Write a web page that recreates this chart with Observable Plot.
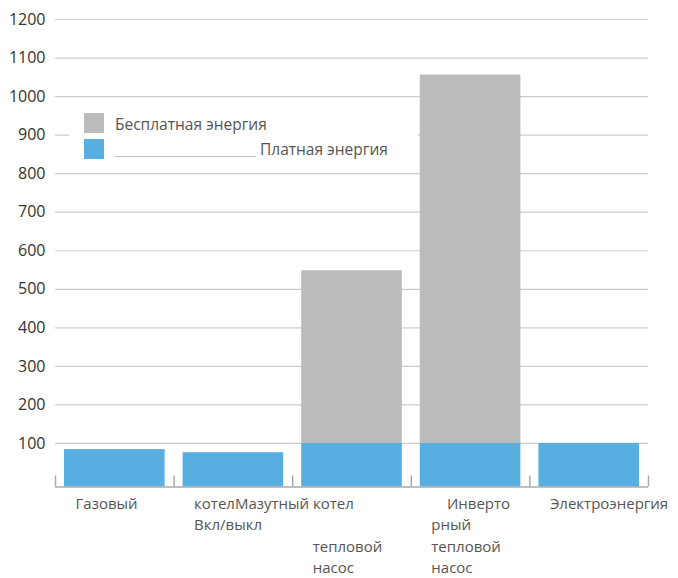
<!DOCTYPE html>
<html>
<head>
<meta charset="utf-8">
<script src="https://cdn.jsdelivr.net/npm/d3@7"></script>
<script src="https://cdn.jsdelivr.net/npm/@observablehq/plot@0.6"></script>
<style>
  html, body { margin: 0; padding: 0; background: #fff; }
  #wrap { position: relative; width: 678px; height: 578px; font-family: "Open Sans", sans-serif; }
  #legend { position: absolute; left: 69px; top: 105px; width: 349px; height: 60px; background: #fff; }
  .sw { position: absolute; left: 15px; width: 20px; height: 20px; }
  .lt { position: absolute; font-size: 15.5px; color: #555; line-height: 20px; white-space: nowrap; }
  .ul { position: absolute; left: 46px; top: 51px; width: 141px; height: 1px; background: #bbb; }
</style>
</head>
<body>
<div id="wrap"></div>
<script>
const categories = ["Газовый котел", "Мазутный котел", "Тепловой насос", "Инверторный тепловой насос", "Электроэнергия"];
const tickLabels = [
  "Газовый",
  "котелМазутный котел\nВкл/выкл",
  "\n\nтепловой\nнасос",
  "\u00a0\u00a0\u00a0\u00a0Инверто\nрный\nтепловой\nнасос",
  "Электроэнергия"
];
const paidEnergy = [84, 76, 100, 100, 100];
const freeEnergy = [0, 0, 448, 956, 0];
const yTicks = [100, 200, 300, 400, 500, 600, 700, 800, 900, 1000, 1100, 1200];
const seriesNames = ["Бесплатная энергия", "Платная энергия"];
const colors = {free: "#bbbbbb", paid: "#58aee0"};

const rows = categories.map((c, i) => ({i, cat: c, paid: paidEnergy[i], free: freeEnergy[i], label: tickLabels[i]}));

const chart = Plot.plot({
  width: 678,
  height: 578,
  marginLeft: 55,
  marginRight: 30,
  marginTop: 19,
  marginBottom: 96.5,
  style: {fontFamily: "'Open Sans', sans-serif", background: "#fff"},
  x: {domain: [0, categories.length], axis: null},
  y: {domain: [0, 1200], axis: null},
  marks: [
    Plot.gridY(yTicks, {stroke: "#cccccc", strokeOpacity: 1, strokeWidth: 1.2}),
    Plot.rectY(rows, {x1: "i", x2: d => d.i + 1, y1: 0, y2: "paid", fill: colors.paid, insetLeft: 9, insetRight: 9, insetBottom: -5}),
    Plot.rectY(rows.filter(d => d.free > 0), {x1: "i", x2: d => d.i + 1, y1: "paid", y2: d => d.paid + d.free, fill: colors.free, insetLeft: 9, insetRight: 9}),
    Plot.ruleY([0], {dy: 5, stroke: "#aaaaaa", strokeWidth: 1.5}),
    Plot.ruleX(d3.range(categories.length + 1), {x: d => d, y1: 0, y2: 0, insetTop: -11, dy: 5, stroke: "#aaaaaa", strokeWidth: 1.5}),
    Plot.axisY(yTicks, {tickSize: 0, tickPadding: 10, label: null, fontSize: 16, fill: "#333", tickFormat: d => String(d)}),
    Plot.text(rows, {x: "i", text: "label", frameAnchor: "bottom", lineAnchor: "top", textAnchor: "start", dx: 20, dy: 12, fontSize: 15, lineHeight: 1.42, fill: "#555"})
  ]
});

const wrap = document.getElementById("wrap");
wrap.appendChild(chart);
const legend = document.createElement("div");
legend.id = "legend";
legend.innerHTML = `
  <div class="sw" style="top:8px;background:${colors.free}"></div>
  <div class="lt" style="left:46px;top:9px">${seriesNames[0]}</div>
  <div class="sw" style="top:34px;background:${colors.paid}"></div>
  <div class="ul"></div>
  <div class="lt" style="left:191px;top:34px">${seriesNames[1]}</div>`;
wrap.appendChild(legend);
</script>
</body>
</html>
